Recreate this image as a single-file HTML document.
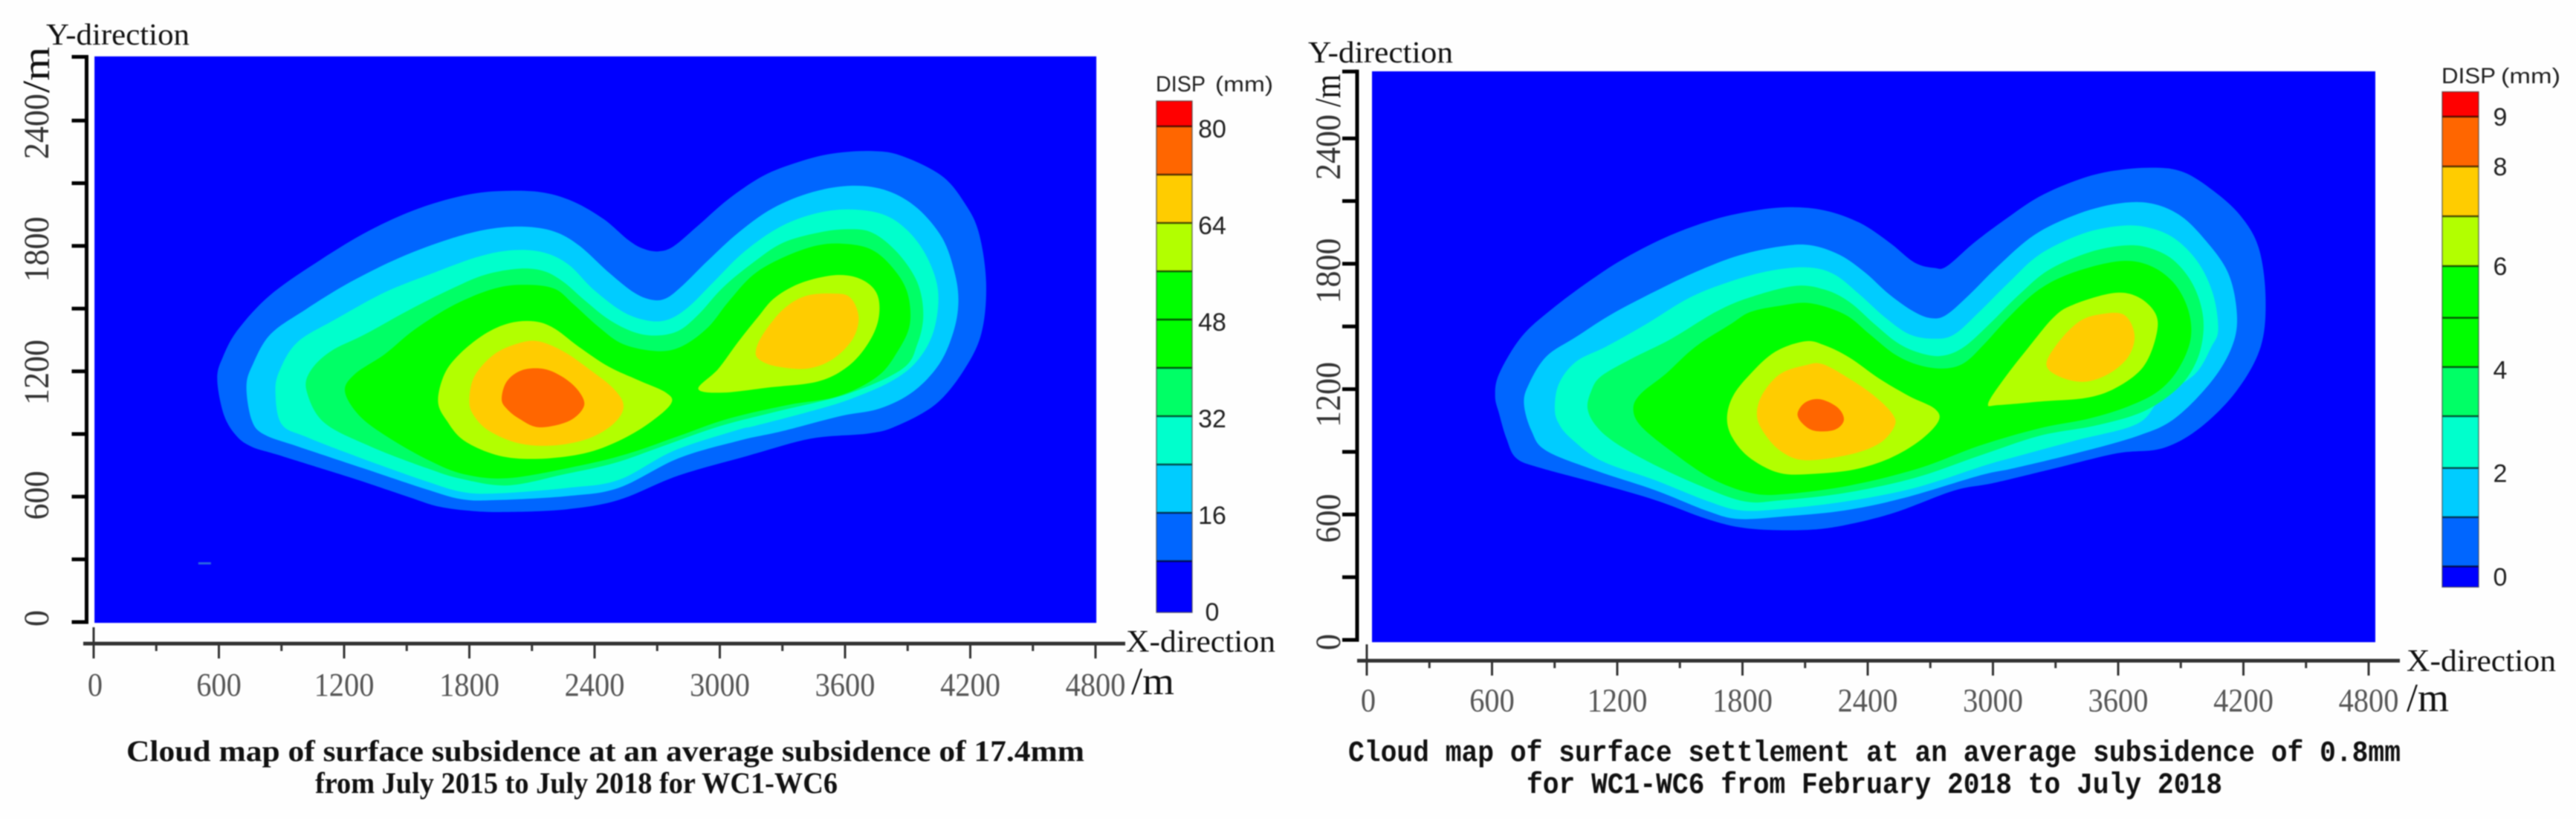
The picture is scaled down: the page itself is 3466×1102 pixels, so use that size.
<!DOCTYPE html>
<html lang="en">
<head>
<meta charset="utf-8">
<title>Surface subsidence cloud maps</title>
<style>
html,body{margin:0;padding:0;background:#fff;}
#figure{display:block;width:3466px;height:1102px;filter:blur(0.7px);}
text{white-space:pre;}
.serif{font-family:"Liberation Serif",serif;}
.sans{font-family:"Liberation Sans",sans-serif;}
.mono{font-family:"Liberation Mono",monospace;}
</style>
</head>
<body>
<svg id="figure" xmlns="http://www.w3.org/2000/svg" width="3466" height="1102" viewBox="0 0 3466 1102">
  <rect x="0" y="0" width="3466" height="1102" fill="#fefefe"/>
  <g id="panel-left"></g>
  <g id="panel-right"></g>

  <text class="serif" x="62" y="60" font-size="41" fill="#111" textLength="193" lengthAdjust="spacingAndGlyphs">Y-direction</text>
  <text class="serif" x="1515" y="877" font-size="42" fill="#111" textLength="201" lengthAdjust="spacingAndGlyphs">X-direction</text>
  <text class="serif" x="1522" y="934" font-size="52" fill="#111" textLength="58" lengthAdjust="spacingAndGlyphs">/m</text>
  <text class="serif" transform="translate(66,125) rotate(-90)" font-size="52" fill="#111" textLength="62" lengthAdjust="spacingAndGlyphs">/m</text>
  <text class="sans" x="1555" y="123" font-size="30" fill="#222" textLength="67" lengthAdjust="spacingAndGlyphs">DISP</text>
  <text class="sans" x="1635" y="123" font-size="29" fill="#222" textLength="78" lengthAdjust="spacingAndGlyphs">(mm)</text>
  <text class="serif" x="170" y="1024" font-size="40" font-weight="bold" fill="#111" textLength="1289" lengthAdjust="spacingAndGlyphs">Cloud map of surface subsidence at an average subsidence of 17.4mm</text>
  <text class="serif" x="424" y="1067" font-size="40" font-weight="bold" fill="#111" textLength="703" lengthAdjust="spacingAndGlyphs">from July 2015 to July 2018 for WC1-WC6</text>

  <text class="serif" x="1760" y="84" font-size="41" fill="#111" textLength="195" lengthAdjust="spacingAndGlyphs">Y-direction</text>
  <text class="serif" x="3238" y="903" font-size="42" fill="#111" textLength="201" lengthAdjust="spacingAndGlyphs">X-direction</text>
  <text class="serif" x="3238" y="957" font-size="54" fill="#111" textLength="57" lengthAdjust="spacingAndGlyphs">/m</text>
  <text class="serif" transform="translate(1803,144) rotate(-90)" font-size="50" fill="#111" textLength="44" lengthAdjust="spacingAndGlyphs">/m</text>
  <text class="sans" x="3285" y="112" font-size="30" fill="#222" textLength="73" lengthAdjust="spacingAndGlyphs">DISP</text>
  <text class="sans" x="3365" y="112" font-size="29" fill="#222" textLength="80" lengthAdjust="spacingAndGlyphs">(mm)</text>
  <text class="mono" x="1814" y="1024" font-size="40" font-weight="bold" fill="#111" textLength="1416" lengthAdjust="spacingAndGlyphs">Cloud map of surface settlement at an average subsidence of 0.8mm</text>
  <text class="mono" x="2054" y="1067" font-size="40" font-weight="bold" fill="#111" textLength="936" lengthAdjust="spacingAndGlyphs">for WC1-WC6 from February 2018 to July 2018</text>
</svg>
<script>
// ---- axis values (metres) ----
const xMajorTicks = [0,600,1200,1800,2400,3000,3600,4200,4800];
const xMinorTicks = [300,900,1500,2100,2700,3300,3900,4500];
const yMajorTicks = [0,600,1200,1800,2400];
const yMinorTicks = [300,900,1500,2100];

// ---- colour-bar values ----
const leftBarLabels = [0,16,32,48,64,80];
const leftBandEdges = [-0.5,8,16,24,32,40,48,56,64,72,80,84.2];
const rightBarLabels = [0,2,4,6,8,9];
const rightBandEdges = [-0.2,0.2,1.15,2.1,3.1,4.05,5,6,7,8,9,9.5];

// ---- left map contours, [x metres, y metres] ----
const leftLevel1 = [[592,1163],[620,1270],[692,1400],[847,1566],[1085,1732],[1324,1875],[1562,1981],[1800,2047],[1991,2064],[2158,2055],[2301,2011],[2444,1928],[2563,1827],[2635,1786],[2706,1774],[2778,1798],[2897,1898],[3040,2023],[3207,2135],[3374,2201],[3540,2242],[3731,2254],[3874,2230],[4064,2135],[4173,2005],[4241,1863],[4276,1626],[4255,1388],[4173,1211],[4037,1045],[3846,938],[3710,902],[3437,878],[3135,796],[2802,701],[2515,584],[2270,540],[2004,527],[1820,531],[1656,552],[1513,597],[1288,673],[1105,731],[880,801],[757,839],[685,890],[624,992]];
const leftLevel2 = [[732,1128],[763,1234],[847,1377],[1014,1495],[1228,1626],[1467,1744],[1705,1833],[1896,1881],[2063,1892],[2206,1869],[2325,1803],[2468,1673],[2587,1578],[2671,1543],[2742,1549],[2825,1614],[2945,1732],[3088,1863],[3255,1981],[3445,2058],[3636,2088],[3803,2064],[3946,1981],[4065,1839],[4125,1673],[4143,1531],[4119,1388],[4051,1234],[3928,1104],[3764,1021],[3574,985],[3301,914],[3088,867],[2802,784],[2515,642],[2270,603],[1942,584],[1769,587],[1595,635],[1288,737],[982,839],[818,897],[757,967]];
const leftLevel3 = [[871,1104],[894,1211],[978,1341],[1157,1448],[1395,1578],[1634,1673],[1848,1750],[2015,1780],[2158,1768],[2277,1709],[2396,1590],[2539,1483],[2659,1442],[2754,1448],[2849,1507],[2969,1626],[3112,1768],[3279,1886],[3445,1952],[3612,1975],[3779,1952],[3898,1875],[3994,1744],[4046,1578],[4023,1388],[3942,1246],[3819,1151],[3628,1068],[3437,1009],[3165,938],[3088,920],[2778,819],[2515,680],[2270,642],[1942,616],[1769,622],[1595,673],[1288,782],[1023,884],[900,948]];
const leftLevel4 = [[1021,1104],[1037,1199],[1133,1294],[1300,1377],[1514,1495],[1705,1590],[1872,1661],[2039,1691],[2158,1679],[2253,1626],[2349,1543],[2468,1448],[2587,1388],[2694,1371],[2802,1394],[2897,1471],[3016,1602],[3159,1720],[3302,1815],[3469,1863],[3612,1880],[3731,1863],[3851,1768],[3946,1626],[3975,1471],[3946,1329],[3874,1211],[3612,1092],[3279,1009],[3002,938],[2730,843],[2492,760],[2253,707],[1983,654],[1759,686],[1595,737],[1329,839],[1105,954]];
const leftLevel5 = [[1204,1104],[1252,1187],[1395,1282],[1538,1400],[1729,1519],[1920,1596],[2063,1614],[2206,1596],[2301,1519],[2420,1412],[2539,1329],[2706,1296],[2825,1323],[2945,1412],[3040,1531],[3159,1661],[3302,1744],[3469,1803],[3612,1809],[3731,1780],[3827,1697],[3898,1578],[3910,1424],[3851,1294],[3755,1175],[3565,1080],[3326,1039],[3040,973],[2802,890],[2563,807],[2325,748],[1991,689],[1777,707],[1610,772],[1419,879],[1276,985]];
const leftLevel6West = [[1650,1056],[1681,1187],[1753,1282],[1872,1377],[1991,1430],[2110,1439],[2206,1406],[2325,1317],[2468,1222],[2611,1157],[2742,1098],[2766,1045],[2659,950],[2516,867],[2349,807],[2134,781],[1943,796],[1777,867],[1693,962]];
const leftLevel6East = [[2897,1116],[2992,1211],[3088,1341],[3183,1460],[3266,1554],[3398,1626],[3565,1661],[3684,1637],[3755,1566],[3760,1448],[3708,1329],[3612,1222],[3469,1151],[3231,1122],[3016,1098]];
const leftLevel7West = [[1800,1056],[1824,1175],[1920,1282],[2039,1335],[2134,1343],[2253,1294],[2373,1211],[2492,1116],[2539,1033],[2492,950],[2373,879],[2206,845],[2039,855],[1896,914],[1824,985]];
const leftLevel7East = [[3172,1294],[3207,1377],[3302,1495],[3410,1560],[3541,1572],[3624,1554],[3665,1460],[3636,1353],[3541,1258],[3421,1213],[3278,1222],[3195,1252]];
const leftLevel8 = [[1955,1068],[1979,1151],[2051,1205],[2158,1211],[2253,1169],[2325,1104],[2349,1033],[2277,962],[2134,932],[2039,973],[1979,1021]];
const leftSpeck = [[530,281]];

// ---- right map contours, [x metres, y metres] ----
const rightLevel1 = [[615,1166],[634,1273],[741,1450],[884,1581],[1075,1723],[1242,1830],[1456,1937],[1671,2014],[1861,2055],[2028,2071],[2195,2055],[2362,1996],[2505,1901],[2624,1806],[2720,1780],[2779,1788],[2910,1901],[3053,2008],[3220,2120],[3411,2203],[3578,2245],[3769,2260],[3912,2239],[4055,2150],[4185,2031],[4273,1877],[4306,1640],[4283,1403],[4165,1189],[3988,1012],[3811,917],[3595,893],[3300,822],[3005,751],[2815,715],[2529,609],[2291,549],[2100,526],[1838,532],[1647,573],[1385,668],[1099,751],[836,822],[717,869],[669,964],[634,1083]];
const rightLevel2 = [[753,1130],[777,1225],[860,1356],[1003,1450],[1170,1557],[1385,1670],[1599,1771],[1790,1842],[1981,1883],[2124,1889],[2267,1842],[2386,1759],[2505,1652],[2624,1569],[2708,1539],[2779,1557],[2887,1652],[3030,1794],[3197,1937],[3387,2031],[3578,2085],[3745,2091],[3888,2037],[4008,1924],[4126,1758],[4169,1557],[4145,1403],[4047,1237],[3870,1059],[3693,976],[3398,893],[3103,822],[2934,786],[2577,680],[2291,620],[2005,591],[1778,579],[1623,620],[1385,715],[1099,810],[860,905],[789,1000]];
const rightLevel3 = [[901,1107],[920,1225],[1003,1332],[1146,1403],[1337,1510],[1551,1640],[1766,1723],[1957,1771],[2124,1782],[2243,1747],[2362,1652],[2481,1545],[2600,1462],[2720,1441],[2815,1462],[2934,1569],[3077,1711],[3220,1842],[3411,1937],[3578,1978],[3721,1978],[3864,1925],[3983,1806],[4055,1652],[4079,1486],[4047,1403],[3968,1272],[3811,1166],[3693,1035],[3398,955],[3103,875],[2958,834],[2624,727],[2291,662],[1981,626],[1790,620],[1623,668],[1385,763],[1122,858],[979,964],[920,1035]];
const rightLevel4 = [[1058,1107],[1075,1190],[1122,1261],[1265,1344],[1456,1439],[1671,1569],[1838,1640],[2052,1694],[2195,1676],[2314,1616],[2434,1510],[2553,1415],[2672,1367],[2767,1361],[2863,1403],[2982,1510],[3125,1652],[3268,1771],[3459,1854],[3626,1887],[3745,1877],[3864,1818],[3959,1699],[4007,1545],[3995,1391],[3935,1261],[3840,1166],[3697,1083],[3483,1024],[3220,976],[2934,881],[2624,775],[2291,703],[1981,668],[1814,662],[1623,727],[1385,834],[1194,941],[1099,1024]];
const rightLevel5 = [[1277,1107],[1313,1178],[1432,1273],[1575,1403],[1742,1510],[1838,1569],[1981,1599],[2124,1611],[2291,1557],[2410,1462],[2529,1367],[2648,1314],[2767,1299],[2863,1326],[2958,1415],[3077,1545],[3220,1676],[3387,1759],[3602,1812],[3745,1794],[3864,1711],[3935,1581],[3947,1439],[3888,1296],[3792,1190],[3649,1118],[3459,1059],[3220,1012],[2934,929],[2648,822],[2314,739],[2005,698],[1838,703],[1647,775],[1456,905],[1313,1024]];
const rightLevel6West = [[1726,1059],[1754,1166],[1838,1273],[1957,1379],[2100,1429],[2195,1409],[2314,1350],[2457,1249],[2600,1166],[2720,1107],[2739,1047],[2648,952],[2505,869],[2338,816],[2147,795],[1981,798],[1838,869],[1754,964]];
const rightLevel6East = [[2977,1130],[3053,1249],[3173,1403],[3292,1545],[3387,1605],[3578,1660],[3697,1640],[3781,1557],[3781,1450],[3721,1308],[3602,1213],[3459,1160],[3244,1142],[3030,1124]];
const rightLevel7West = [[1869,1083],[1897,1178],[1981,1273],[2100,1314],[2183,1320],[2314,1249],[2434,1166],[2517,1083],[2529,1024],[2457,941],[2314,887],[2100,860],[1981,905],[1897,1000]];
const rightLevel7East = [[3256,1320],[3316,1427],[3411,1522],[3506,1557],[3626,1557],[3678,1462],[3649,1356],[3554,1273],[3435,1235],[3316,1261]];
const rightLevel8 = [[2064,1083],[2100,1136],[2171,1152],[2255,1113],[2286,1053],[2243,1006],[2147,1000],[2088,1035]];

// ---- colour ramp (lowest band first) ----
const bandColors = ['#0000ff','#0066ff','#00ccff','#00ffcc','#00ff66','#00ff00','#00ff00','#b2ff00','#ffcc00','#ff6600','#ff0000'];
const levelColors = {1:'#0066ff',2:'#00ccff',3:'#00ffcc',4:'#00ff66',5:'#00ff00',6:'#b2ff00',7:'#ffcc00',8:'#ff6600'};

const SVGNS = 'http://www.w3.org/2000/svg';

function make(tag, parent, attrs) {
  const el = document.createElementNS(SVGNS, tag);
  for (const k in attrs) el.setAttribute(k, attrs[k]);
  parent.appendChild(el);
  return el;
}

function piecewise(domain, range) {
  return function (v) {
    let i = 0;
    while (i < domain.length - 2 && v > domain[i + 1]) i++;
    const t = (v - domain[i]) / (domain[i + 1] - domain[i]);
    return range[i] + t * (range[i + 1] - range[i]);
  };
}

function smoothPath(points, sx, sy) {
  const p = points.map(function (d) { return [sx(d[0]), sy(d[1])]; });
  const n = p.length;
  let d = 'M' + p[0][0].toFixed(1) + ' ' + p[0][1].toFixed(1);
  for (let i = 0; i < n; i++) {
    const p0 = p[(i - 1 + n) % n], p1 = p[i], p2 = p[(i + 1) % n], p3 = p[(i + 2) % n];
    const c1x = p1[0] + (p2[0] - p0[0]) / 6, c1y = p1[1] + (p2[1] - p0[1]) / 6;
    const c2x = p2[0] - (p3[0] - p1[0]) / 6, c2y = p2[1] - (p3[1] - p1[1]) / 6;
    d += 'C' + c1x.toFixed(1) + ' ' + c1y.toFixed(1) + ' ' + c2x.toFixed(1) + ' ' + c2y.toFixed(1) + ' ' + p2[0].toFixed(1) + ' ' + p2[1].toFixed(1);
  }
  return d + 'Z';
}

function drawPanel(cfg) {
  const g = document.getElementById(cfg.id);
  const sx = function (m) { return cfg.x0 + m * 168.5 / 600; };
  const sy = function (m) { return cfg.y0 - m * 168.7 / 600; };
  const labelY = function (m) { return cfg.labelY0 - m * cfg.labelPerM; };
  const barY = piecewise(cfg.barDomain, cfg.barRange);

  const plot = make('rect', g, {x: sx(cfg.xMin), y: sy(cfg.yMax), width: sx(cfg.xMax) - sx(cfg.xMin), height: sy(cfg.yMin) - sy(cfg.yMax), fill: '#0000ff'});
  
  

  cfg.contours.forEach(function (c) {
    const path = make('path', g, {d: smoothPath(c.points, sx, sy), fill: levelColors[c.level]});
    
    
  });

  cfg.specks.forEach(function (s) {
    const speck = make('rect', g, {x: sx(s[0]) - 8, y: sy(s[1]) - 1.5, width: 17, height: 3, fill: '#2a66e0'});
    
    
  });

  // y axis
  const yLine = make('line', g, {x1: cfg.yAxisX, x2: cfg.yAxisX, y1: sy(cfg.yTop) - 2.5, y2: sy(0) + 2.5, stroke: '#000', 'stroke-width': 5});
  
  
  yMajorTicks.concat(yMinorTicks, [cfg.yTop]).forEach(function (v) {
    const t = make('line', g, {x1: cfg.yAxisX - 20, x2: cfg.yAxisX, y1: sy(v), y2: sy(v), stroke: '#000', 'stroke-width': 5});
    
    
  });
  yMajorTicks.forEach(function (v) {
    const s = String(v);
    const t = make('text', g, {transform: 'translate(' + cfg.yLabelX + ',' + labelY(v) + ') rotate(-90)', 'text-anchor': 'middle', 'font-size': 48, fill: '#333', textLength: 22 * s.length, lengthAdjust: 'spacingAndGlyphs', 'class': 'serif'});
    t.textContent = s;
    
    
  });

  // x axis
  const xLine = make('line', g, {x1: cfg.xAxisStart, x2: cfg.xAxisEnd, y1: cfg.xAxisY, y2: cfg.xAxisY, stroke: '#333', 'stroke-width': 5});
  
  
  const origin = make('line', g, {x1: sx(0), x2: sx(0), y1: cfg.xAxisY - 22, y2: cfg.xAxisY, stroke: '#333', 'stroke-width': 3});
  
  
  xMajorTicks.forEach(function (v) {
    const t = make('line', g, {x1: sx(v), x2: sx(v), y1: cfg.xAxisY, y2: cfg.xAxisY + 20, stroke: '#333', 'stroke-width': 3});
    
    
    const s = String(v);
    const l = make('text', g, {x: sx(v) + (v === 0 ? 2 : 0), y: cfg.xLabelY, 'text-anchor': 'middle', 'font-size': 44, fill: '#555', textLength: 20.2 * s.length, lengthAdjust: 'spacingAndGlyphs', 'class': 'serif'});
    l.textContent = s;
    
    
  });
  xMinorTicks.forEach(function (v) {
    const t = make('line', g, {x1: sx(v), x2: sx(v), y1: cfg.xAxisY, y2: cfg.xAxisY + 10, stroke: '#333', 'stroke-width': 3});
    
    
  });

  // colour bar
  for (let i = 0; i < cfg.bandEdges.length - 1; i++) {
    const top = barY(cfg.bandEdges[i + 1]), bottom = barY(cfg.bandEdges[i]);
    const band = make('rect', g, {x: cfg.barX, y: top, width: cfg.barW, height: bottom - top, fill: bandColors[i]});
    
    
    if (i > 0) {
      const div = make('line', g, {x1: cfg.barX, x2: cfg.barX + cfg.barW, y1: bottom, y2: bottom, stroke: 'rgba(0,0,0,0.65)', 'stroke-width': 2.5});
      
      
    }
  }
  const topEdge = barY(cfg.bandEdges[cfg.bandEdges.length - 1]), bottomEdge = barY(cfg.bandEdges[0]);
  const frame = make('rect', g, {x: cfg.barX, y: topEdge, width: cfg.barW, height: bottomEdge - topEdge, fill: 'none', stroke: 'rgba(60,60,60,0.65)', 'stroke-width': 1.5});
  
  
  cfg.barLabels.forEach(function (v) {
    const l = make('text', g, {x: cfg.barLabelX, y: barY(v) + cfg.barLabelDy, 'text-anchor': 'middle', 'font-size': 34, fill: '#222', 'class': 'sans'});
    l.textContent = String(v);
    
    
  });
}

drawPanel({
  id: 'panel-left', side: 'left',
  x0: 126, y0: 837, xMin: 4, xMax: 4804, yMin: -4, yMax: 2707, yTop: 2705,
  yAxisX: 116.5, yLabelX: 65, labelY0: 832, labelPerM: 0.2758,
  xAxisStart: 112, xAxisEnd: 1514, xAxisY: 866, xLabelY: 936,
  barX: 1556, barW: 48, barDomain: [0, 80], barRange: [820, 170], bandEdges: leftBandEdges,
  barLabels: leftBarLabels, barLabelX: 1631, barLabelDy: 15,
  specks: leftSpeck,
  contours: [
    {level: 1, tag: '', points: leftLevel1},
    {level: 2, tag: '', points: leftLevel2},
    {level: 3, tag: '', points: leftLevel3},
    {level: 4, tag: '', points: leftLevel4},
    {level: 5, tag: '', points: leftLevel5},
    {level: 6, tag: '-west', points: leftLevel6West},
    {level: 6, tag: '-east', points: leftLevel6East},
    {level: 7, tag: '-west', points: leftLevel7West},
    {level: 7, tag: '-east', points: leftLevel7East},
    {level: 8, tag: '', points: leftLevel8}
  ]
});

drawPanel({
  id: 'panel-right', side: 'right',
  x0: 1839, y0: 861, xMin: 25, xMax: 4832, yMin: -11, yMax: 2721, yTop: 2720,
  yAxisX: 1826, yLabelX: 1803, labelY0: 864, labelPerM: 0.2775,
  xAxisStart: 1826, xAxisEnd: 3229, xAxisY: 889, xLabelY: 957,
  barX: 3286, barW: 49, barDomain: [0, 6, 9], barRange: [776, 358, 157], bandEdges: rightBandEdges,
  barLabels: rightBarLabels, barLabelX: 3364, barLabelDy: 12,
  specks: [],
  contours: [
    {level: 1, tag: '', points: rightLevel1},
    {level: 2, tag: '', points: rightLevel2},
    {level: 3, tag: '', points: rightLevel3},
    {level: 4, tag: '', points: rightLevel4},
    {level: 5, tag: '', points: rightLevel5},
    {level: 6, tag: '-west', points: rightLevel6West},
    {level: 6, tag: '-east', points: rightLevel6East},
    {level: 7, tag: '-west', points: rightLevel7West},
    {level: 7, tag: '-east', points: rightLevel7East},
    {level: 8, tag: '', points: rightLevel8}
  ]
});
</script>
</body>
</html>
